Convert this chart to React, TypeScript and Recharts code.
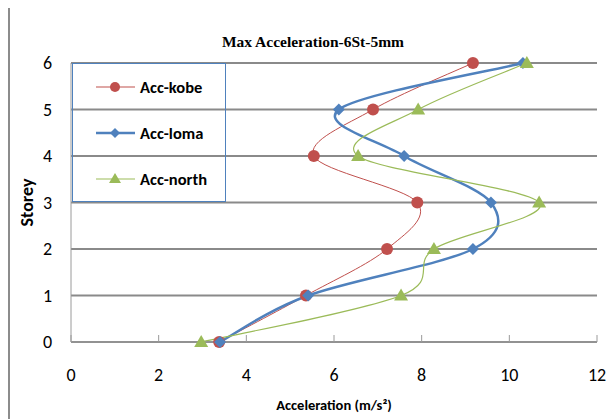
import React from 'react';
import { LineChart, Line, XAxis, YAxis, CartesianGrid, Label } from 'recharts';

const storeys = [0, 1, 2, 3, 4, 5, 6];
const kobe = [3.38, 5.36, 7.21, 7.9, 5.54, 6.89, 9.17];
const loma = [3.4, 5.41, 9.17, 9.58, 7.6, 6.11, 10.31];
const north = [2.97, 7.53, 8.28, 10.68, 6.55, 7.92, 10.4];
const xTicks = [0, 2, 4, 6, 8, 10, 12];
const seriesNames = ['Acc-kobe', 'Acc-loma', 'Acc-north'];

const data = storeys.map((s, i) => ({ storey: s, kobe: kobe[i], loma: loma[i], north: north[i] }));

const FONT = "Carlito, 'Liberation Sans Narrow', 'Open Sans', sans-serif";
const RED = '#C0504D';
const BLUE = '#4F81BD';
const GREEN = '#9BBB59';
const colors = [RED, BLUE, GREEN];

// Excel-style smoothed line (Catmull-Rom through the points)
function smoothCurve(context: any) {
  let pts: number[][] = [];
  return {
    areaStart() {},
    areaEnd() {},
    lineStart() { pts = []; },
    point(x: number, y: number) { pts.push([+x, +y]); },
    lineEnd() {
      if (!pts.length) return;
      context.moveTo(pts[0][0], pts[0][1]);
      for (let i = 0; i < pts.length - 1; i++) {
        const p0 = pts[i - 1] || pts[i];
        const p1 = pts[i];
        const p2 = pts[i + 1];
        const p3 = pts[i + 2] || p2;
        context.bezierCurveTo(
          p1[0] + (p2[0] - p0[0]) / 6, p1[1] + (p2[1] - p0[1]) / 6,
          p2[0] - (p3[0] - p1[0]) / 6, p2[1] - (p3[1] - p1[1]) / 6,
          p2[0], p2[1]
        );
      }
    },
  };
}

const CircleDot = (p: any) => <circle key={p.key} cx={p.cx} cy={p.cy} r={6} fill={RED} />;
const DiamondDot = (p: any) => (
  <polygon key={p.key} points={`${p.cx},${p.cy - 6} ${p.cx + 6},${p.cy} ${p.cx},${p.cy + 6} ${p.cx - 6},${p.cy}`} fill={BLUE} />
);
const TriangleDot = (p: any) => (
  <polygon key={p.key} points={`${p.cx},${p.cy - 7} ${p.cx + 7},${p.cy + 5} ${p.cx - 7},${p.cy + 5}`} fill={GREEN} />
);

const legendMarker = (i: number, color: string) => {
  if (i === 0) return <circle cx={20} cy={8} r={5} fill={color} />;
  if (i === 1) return <polygon points="20,3 25,8 20,13 15,8" fill={color} />;
  return <polygon points="20,2 26,12 14,12" fill={color} />;
};

const LegendBox = () => (
  <div style={{ position: 'absolute', left: 62, top: 55, width: 154, height: 139, border: '1px solid #4F81BD', boxSizing: 'border-box' }}>
    {seriesNames.map((name, i) => (
      <div key={name} style={{ position: 'absolute', left: 22, top: 15 + i * 46, display: 'flex', alignItems: 'center' }}>
        <svg width={42} height={16}>
          <line x1={1} y1={8} x2={40} y2={8} stroke={colors[i]} strokeWidth={i === 1 ? 2.5 : 1.2} />
          {legendMarker(i, colors[i])}
        </svg>
        <span style={{ fontFamily: FONT, fontWeight: 'bold', fontSize: 16.5, marginLeft: 3, color: '#000', lineHeight: '16px' }}>{name}</span>
      </div>
    ))}
  </div>
);

export default function App() {
  return (
    <div style={{ position: 'relative', marginTop: -2, width: 604, height: 413, borderTop: '2px solid #8c8c8c', borderLeft: '2px solid #8c8c8c', background: '#fff' }}>
      <div style={{ position: 'absolute', left: 0, width: 606, top: 25, textAlign: 'center', fontFamily: "'Liberation Serif', serif", fontWeight: 'bold', fontSize: 15.5, color: '#000' }}>
        Max Acceleration-6St-5mm
      </div>
      <LineChart width={604} height={411} data={data} layout="vertical" margin={{ top: 55, right: 17, left: 0, bottom: 37 }}>
        <CartesianGrid horizontal vertical={false} stroke="#8a8a8a" strokeWidth={2} />
        <XAxis
          type="number"
          domain={[0, 12]}
          ticks={xTicks}
          stroke="#9a9a9a"
          tickSize={-7}
          tickMargin={33}
          height={40}
          tick={{ fill: '#000', fontFamily: FONT, fontSize: 18 }}
        >
          <Label value="Acceleration (m/s²)" position="insideBottom" offset={-28} style={{ fill: '#000', fontFamily: FONT, fontWeight: 'bold', fontSize: 14.5 }} />
        </XAxis>
        <YAxis
          type="number"
          dataKey="storey"
          domain={[0, 6]}
          ticks={storeys}
          reversed
          width={61}
          stroke="#9a9a9a"
          tickLine={false}
          tickSize={0}
          tickMargin={19}
          tick={{ fill: '#000', fontFamily: FONT, fontSize: 18 }}
        >
          <Label value="Storey" angle={-90} position="insideLeft" offset={17} style={{ fill: '#000', fontFamily: FONT, fontWeight: 'bold', fontSize: 18, textAnchor: 'middle' }} />
        </YAxis>
        <Line name="Acc-kobe" dataKey="kobe" type={smoothCurve as any} stroke={RED} strokeWidth={1} dot={CircleDot} activeDot={false} isAnimationActive={false} />
        <Line name="Acc-loma" dataKey="loma" type={smoothCurve as any} stroke={BLUE} strokeWidth={2.5} dot={DiamondDot} activeDot={false} isAnimationActive={false} />
        <Line name="Acc-north" dataKey="north" type={smoothCurve as any} stroke={GREEN} strokeWidth={1.2} dot={TriangleDot} activeDot={false} isAnimationActive={false} />
      </LineChart>
      <LegendBox />
    </div>
  );
}
